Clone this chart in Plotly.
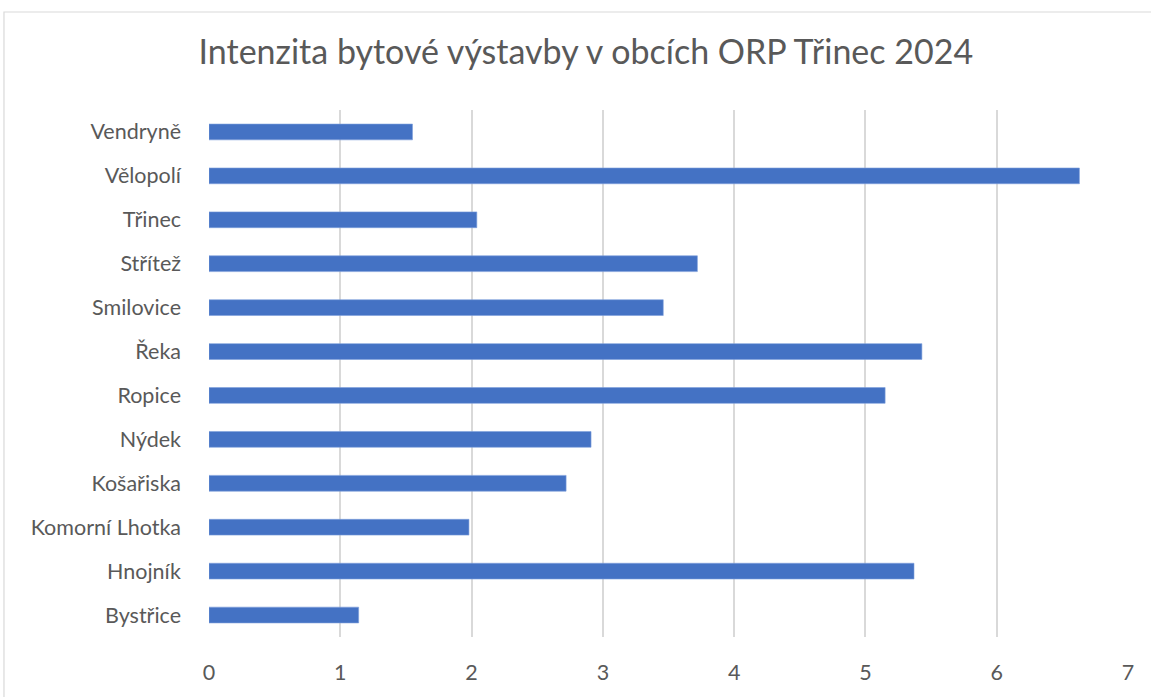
import plotly.graph_objects as go

# barva a pismo jako v Excelu
BAR_COLOR = '#4472C4'
TEXT_COLOR = '#595959'
FONT = 'Lato, Carlito, Calibri, sans-serif'

obce = ['Bystřice', 'Hnojník', 'Komorní Lhotka', 'Košařiska', 'Nýdek',
        'Ropice', 'Řeka', 'Smilovice', 'Střítež', 'Třinec', 'Vělopolí',
        'Vendryně']
intenzita = [1.14, 5.37, 1.98, 2.72, 2.91, 5.15, 5.43, 3.46, 3.72, 2.04,
             6.63, 1.55]
x_ticks = [0, 1, 2, 3, 4, 5, 6, 7]

titulek = 'Intenzita bytové výstavby v obcích ORP Třinec 2024'


def create_bar(obce, hodnoty):
    """Vodorovny sloupcovy graf intenzity vystavby."""
    fig = go.Figure(go.Bar(
        x=hodnoty,
        y=obce,
        orientation='h',
        marker=dict(color=BAR_COLOR,
                    line=dict(color='#7d9fdb', width=0.6)),
    ))
    fig.update_layout(
        title=dict(text=titulek, x=0.509, xanchor='center',
                   y=0.925, yanchor='middle',
                   font=dict(size=34, color=TEXT_COLOR, family=FONT)),
        width=1151, height=697,
        margin={"l": 209, "r": 23, "t": 110, "b": 55},
        bargap=0.64,
        paper_bgcolor='white',
        plot_bgcolor='white',
        font=dict(family=FONT, size=21.5, color=TEXT_COLOR),
        showlegend=False,
        shapes=[dict(type='rect', xref='paper', yref='paper',
                     x0=-0.2231, x1=1.1, y0=-0.2, y1=1.186,
                     line=dict(color='#d9d9d9', width=1.2),
                     layer='below')],
    )
    fig.update_xaxes(range=[0, 7], tickvals=x_ticks,
                     showgrid=True, gridcolor='#d9d9d9', gridwidth=1.5,
                     zeroline=False, showline=False, ticks='',
                     ticklabelstandoff=20)
    fig.update_yaxes(showgrid=False, zeroline=False, showline=False,
                     ticks='', ticklabelstandoff=27)
    return fig


fig = create_bar(obce, intenzita)
# bez okraje stranky, aby graf zacinal v rohu
fig.write_html("out.html", config={'displayModeBar': False},
               post_script="document.body.style.margin='0';")
